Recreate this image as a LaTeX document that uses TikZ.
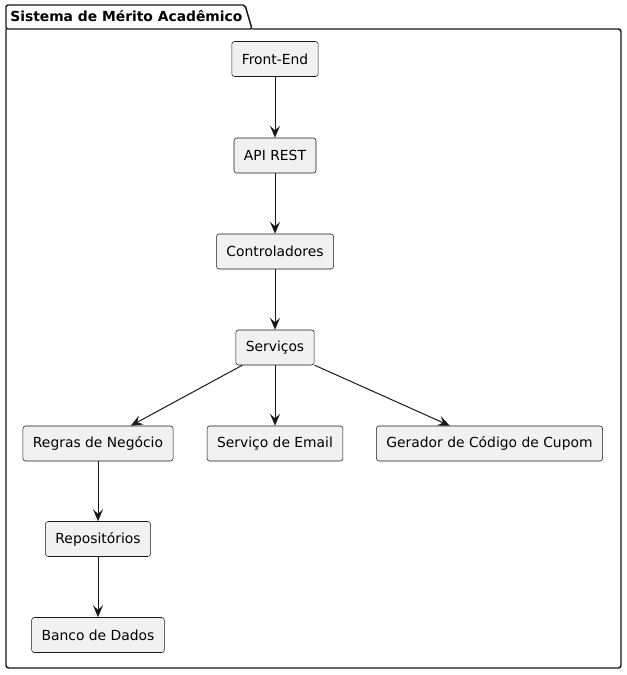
\documentclass[tikz,border=0pt]{standalone}
\usepackage{fontspec}
\setmainfont{DejaVu Sans}
\usetikzlibrary{arrows.meta}
\definecolor{ln}{HTML}{181818}
\definecolor{bx}{HTML}{F1F1F1}
\begin{document}
\begin{tikzpicture}[x=0.75pt,y=-0.75pt,
  comp/.style={draw=ln,fill=bx,line width=0.4pt,rounded corners=2pt,minimum height=26.25pt,inner xsep=7.5pt,font=\fontsize{10.4pt}{12pt}\selectfont,text=black},
  conn/.style={draw=ln,line width=0.75pt,-{Stealth[length=9pt,width=7.5pt,inset=3.5pt]}}]
\useasboundingbox (0,0) rectangle (626,675);
% package
\draw[ln,line width=1.1pt,rounded corners=2pt] (6,29) -- (6,668) -- (621,668) -- (621,29) -- (252,29);
\draw[ln,line width=1.1pt,rounded corners=1.5pt] (6,29) -- (6,5) -- (245,5) -- (252,29) -- cycle;
\node[anchor=base west,inner sep=0pt,font=\bfseries\fontsize{10.4pt}{12pt}\selectfont] (title) at (10,21) {Sistema de Mérito Acadêmico};
% nodes
\node[comp] (fe) at (275,59) {Front-End};
\node[comp] (api) at (275,155.5) {API REST};
\node[comp] (ctl) at (275,251.5) {Controladores};
\node[comp] (srv) at (275,347.5) {Serviços};
\node[comp] (rn) at (98,443.5) {Regras de Negócio};
\node[comp] (em) at (275,443.5) {Serviço de Email};
\node[comp] (gc) at (489.5,443.5) {Gerador de Código de Cupom};
\node[comp] (rep) at (98,539) {Repositórios};
\node[comp] (bd) at (98,635) {Banco de Dados};
% connectors
\draw[conn] (fe) -- (api);
\draw[conn] (api) -- (ctl);
\draw[conn] (ctl) -- (srv);
\draw[conn] (srv) -- (rn);
\draw[conn] (srv) -- (em);
\draw[conn] (srv) -- (gc);
\draw[conn] (rn) -- (rep);
\draw[conn] (rep) -- (bd);
\end{tikzpicture}
\end{document}
